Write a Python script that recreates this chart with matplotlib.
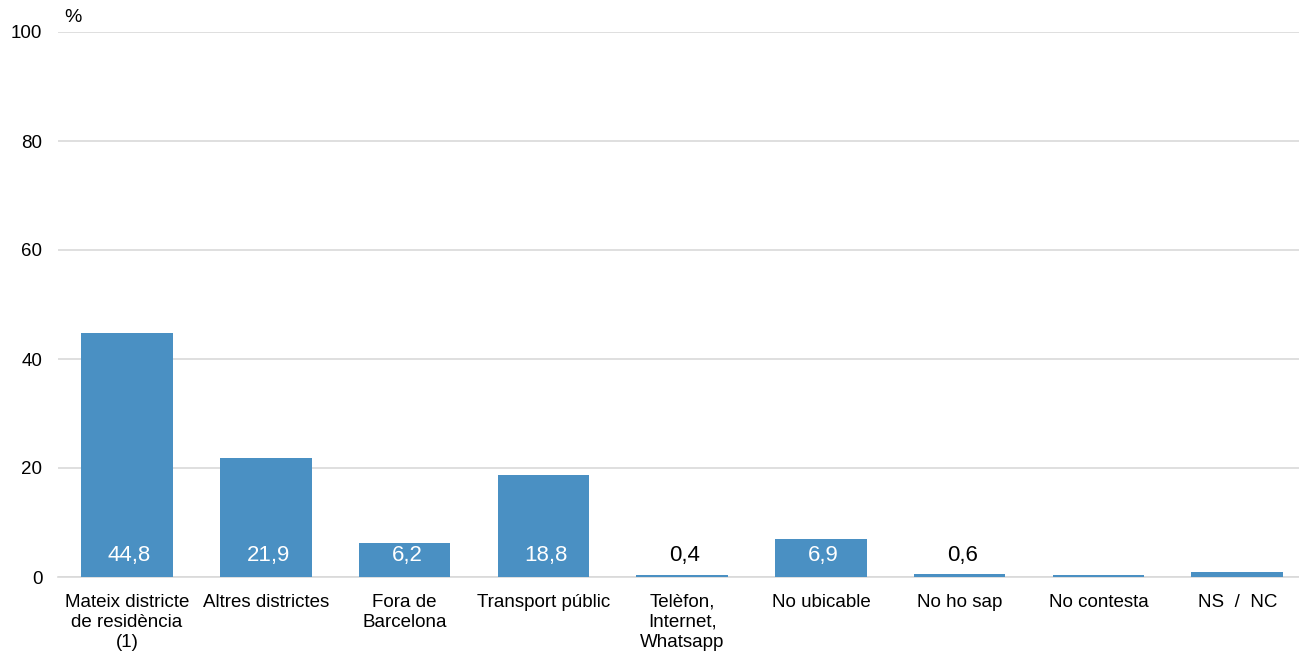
import matplotlib
matplotlib.use("Agg")
import matplotlib.pyplot as plt

categories = ["Mateix districte\nde residència\n(1)", "Altres districtes", "Fora de\nBarcelona",
              "Transport públic", "Telèfon,\nInternet,\nWhatsapp", "No ubicable", "No ho sap",
              "No contesta", "NS  /  NC"]
values = [44.8, 21.9, 6.2, 18.8, 0.4, 6.9, 0.6, 0.4, 1.0]
labels = ["44,8", "21,9", "6,2", "18,8", "0,4", "6,9", "0,6", "", ""]
yticks = [0, 20, 40, 60, 80, 100]

plt.rcParams['font.family'] = ['Liberation Sans', 'DejaVu Sans']
color = "#4a90c3"

fig = plt.figure(figsize=(12.99, 6.55), dpi=100)
ax = fig.add_axes([57.6/1299, 1-577/655, 1249/1299, (577-32)/655])
x = list(range(len(categories)))
ax.bar(x, values, width=0.66, color=color, zorder=3)
ax.set_xlim(-0.5, len(categories)-0.5)
ax.set_ylim(0, 100)
ax.set_yticks(yticks)
ax.set_yticklabels([str(t) for t in yticks], fontsize=13.5)
ax.set_xticks(x)
ax.set_xticklabels(categories, fontsize=13.5, linespacing=1.25)
ax.tick_params(axis='both', length=0)
ax.tick_params(axis='y', pad=11)
ax.tick_params(axis='x', pad=12)
ax.grid(axis='y', color='#d9d9d9', linewidth=1.2, zorder=0)
for s in ['left', 'right', 'top']:
    ax.spines[s].set_visible(False)
ax.spines['bottom'].set_color('#d9d9d9')
ax.spines['bottom'].set_linewidth(1.2)

for xi, v, lab in zip(x, values, labels):
    if not lab:
        continue
    col = 'white' if v > 4 else 'black'
    ax.annotate(lab, (xi, 0), xytext=(2.5, 22), textcoords='offset pixels',
                ha='center', va='center', fontsize=16, color=col, zorder=4)

fig.text(64/1299, 1-18/655, "%", fontsize=14, ha='left', va='center')
fig.savefig("out.png", dpi=100)
